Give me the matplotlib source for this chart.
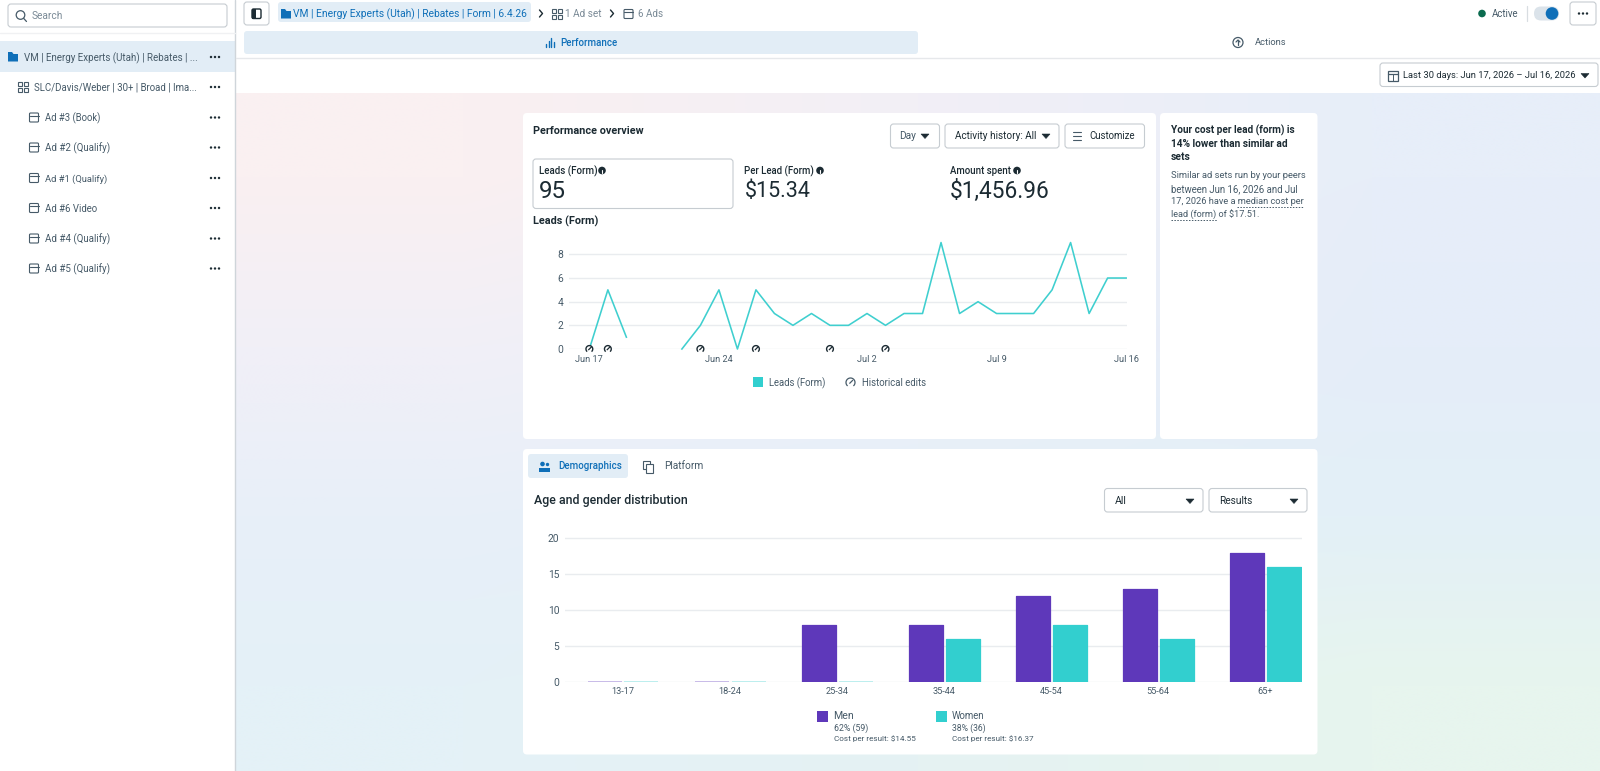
import numpy as np
import matplotlib
matplotlib.use("Agg")
import matplotlib.pyplot as plt
from matplotlib.patches import FancyBboxPatch, Rectangle, Circle, Polygon
from matplotlib.path import Path
from matplotlib.colors import to_rgb
from matplotlib.textpath import TextPath
from matplotlib.font_manager import FontProperties

# ---------- data ----------
day_index = list(range(30))
leads = [0, 5, 1, None, None, 0, 2, 5, 0, 5, 3, 2, 3, 2, 2, 3, 2, 3, 3, 9,
         3, 4, 3, 3, 3, 5, 9, 3, 6, 6]
edit_days = [0, 1, 6, 9, 13, 16]
date_ticks = [0, 7, 15, 22, 29]
date_labels = ["Jun 17", "Jun 24", "Jul 2", "Jul 9", "Jul 16"]
leads_yticks = [0, 2, 4, 6, 8]

age_groups = ["13-17", "18-24", "25-34", "35-44", "45-54", "55-64", "65+"]
men = [0, 0, 8, 8, 12, 13, 18]
women = [0, 0, 0, 6, 8, 6, 16]
age_yticks = [0, 5, 10, 15, 20]

ad_rows = ["Ad #3 (Book)", "Ad #2 (Qualify)", "Ad #1 (Qualify)", "Ad #6 Video",
           "Ad #4 (Qualify)", "Ad #5 (Qualify)"]
ad_widths = [55, 64, 62, 52, 64, 64]

# ---------- style ----------
W, H = 1600, 771
FONT = ["Roboto", "DejaVu Sans"]
plt.rcParams["font.family"] = FONT
INK = "#1c2b33"
MID = "#465a68"
SOFT = "#7a8a96"
BLUE = "#0f6fb8"
PALE = "#e2edf6"
BORDER = "#c6ccd1"
GRID = "#e9ecef"
PURPLE = "#5e38ba"
TEAL = "#32cfcf"
LINE = "#3fcfcf"

fig = plt.figure(figsize=(W / 100, H / 100), dpi=100, facecolor="white")
ui = fig.add_axes([0, 0, 1, 1], zorder=0)
ui.set_xlim(0, W)
ui.set_ylim(H, 0)
ui.axis("off")

# ---------- background ----------
grad = np.array([[to_rgb(c) for c in row] for row in [
    ["#faf0f1", "#f2eff6", "#e7eef9"],
    ["#f1eff7", "#eceff8", "#e5edf9"],
    ["#e8eff9", "#e5f0f8", "#e3f0f7"],
    ["#e4f1f7", "#e5f2f3", "#e7f5ee"]]])
ui.imshow(grad, extent=(236, W, H, 93), aspect="auto", interpolation="bilinear", zorder=0)
ui.set_xlim(0, W)
ui.set_ylim(H, 0)


def T(x, y, s, width, color=INK, weight="normal", ha="left"):
    """Place text so that its drawn width is `width` pixels."""
    fp = FontProperties(family="Roboto", weight=weight)
    bb = TextPath((0, 0), s, size=100, prop=fp).get_extents()
    pts = 100 * (width * 0.72) / bb.width
    return ui.text(x, y + 0.8, s, fontsize=pts, color=color, fontweight=weight,
                   ha=ha, va="center", zorder=5, family=FONT)


def box(x0, y0, x1, y1, fc="white", ec="none", lw=0.8, r=3, z=2):
    p = FancyBboxPatch((x0, y0), x1 - x0, y1 - y0, boxstyle=f"round,pad=0,rounding_size={r}",
                       fc=fc, ec=ec, lw=lw, zorder=z)
    ui.add_patch(p)
    return p


def L(xs, ys, color=INK, lw=0.9, ls="-", z=6):
    ui.plot(xs, ys, color=color, lw=lw, ls=ls, zorder=z, solid_capstyle="round")


def caret(x, y, s=4, color=INK):
    ui.add_patch(Polygon([(x - s, y - 2), (x + s, y - 2), (x, y + 2.5)], fc=color, ec=color, lw=0.4, zorder=6))


def dots(x, y):
    for d in (-4, 0, 4):
        ui.add_patch(Circle((x + d, y), 1.2, fc=INK, ec="none", zorder=6))


def folder(x, y, c=BLUE):
    ui.add_patch(Polygon([(x, y - 5), (x + 4, y - 5), (x + 5.5, y - 3), (x + 10, y - 3), (x + 10, y + 4.5), (x, y + 4.5)],
                         fc=c, ec="none", zorder=6))


def gridicon(x, y, c=MID):
    for dx in (0, 6):
        for dy in (-5, 1):
            ui.add_patch(Rectangle((x + dx, y + dy), 4.2, 4.2, fc="none", ec=c, lw=0.8, zorder=6))


def adicon(x, y, c=MID):
    ui.add_patch(FancyBboxPatch((x, y - 4.5), 9, 9, boxstyle="round,pad=0,rounding_size=1", fc="none", ec=c, lw=0.8, zorder=6))
    L([x, x + 9], [y - 2, y - 2], c, 0.8)


def chevron(x, y, c=INK):
    L([x - 1.5, x + 1.5, x - 1.5], [y - 3.5, y, y + 3.5], c, 1.0)


def info(x, y):
    ui.add_patch(Circle((x, y), 3.8, fc=INK, ec="none", zorder=6))
    L([x, x], [y - 0.3, y + 2], "white", 0.8, z=7)
    L([x, x], [y - 2, y - 1.7], "white", 0.8, z=7)


# ---------- sidebar ----------
L([235, 235], [0, H], "#cfd5da", 1.0)
box(8, 4, 227, 27, ec=BORDER)
ui.add_patch(Circle((20.5, 15), 4.3, fc="none", ec=MID, lw=0.9, zorder=6))
L([23.7, 26.5], [18.4, 21.5], MID, 0.9)
T(32, 15.5, "Search", 30, SOFT)
L([0, 235], [33, 33], "#f0f1f3", 1.0)
ui.add_patch(Rectangle((0, 41), 235, 31, fc=PALE, ec="none", zorder=1))
folder(8, 57)
T(24, 57, "VM | Energy Experts (Utah) | Rebates | ...", 173, MID)
dots(215, 57)
gridicon(18, 87)
T(34.5, 87, "SLC/Davis/Weber | 30+ | Broad | Ima...", 163, MID)
dots(215, 87)
row_y = [117.5, 147.5, 178, 208, 238.5, 268.5]
for name, wd, y in zip(ad_rows, ad_widths, row_y):
    adicon(29.5, y)
    T(45, y, name, wd, MID)
    dots(215, y)

# ---------- top bar ----------
box(244, 2, 269, 25, ec=BORDER)
ui.add_patch(FancyBboxPatch((252, 9), 9, 9.5, boxstyle="round,pad=0,rounding_size=1.5", fc="white", ec=INK, lw=1, zorder=6))
ui.add_patch(Rectangle((252, 9), 4, 9.5, fc=INK, ec="none", zorder=6))
box(278, 2, 531, 22, fc=PALE)
folder(281, 14)
T(293, 13, "VM | Energy Experts (Utah) | Rebates | Form | 6.4.26", 234, BLUE)
chevron(541, 13.5)
gridicon(552, 14, MID)
T(565, 13, "1 Ad set", 35.5, SOFT)
chevron(612, 13.5)
adicon(624, 14, MID)
T(638, 13, "6 Ads", 24, SOFT)
ui.add_patch(Circle((1482, 13.5), 3.8, fc="#0b6b4f", ec="none", zorder=6))
T(1492, 13, "Active", 26, MID)
L([1527, 1527], [6, 21], "#d8dde1", 0.9)
box(1534, 6.5, 1559, 20.5, fc="#dbe3ea", r=7)
ui.add_patch(Circle((1552, 13.5), 6.3, fc=BLUE, ec="none", zorder=6))
box(1570, 2, 1596, 25, ec=BORDER)
dots(1583, 13.5)

box(244, 31, 918, 54, fc=PALE)
for i, h in enumerate((3, 6, 9, 5)):
    L([546 + i * 2.6, 546 + i * 2.6], [47, 47 - h], BLUE, 1.0)
T(560, 42, "Performance", 56, BLUE, weight="medium")
ui.add_patch(Circle((1238, 42.5), 5, fc="none", ec=MID, lw=0.9, zorder=6))
L([1238, 1238], [45, 40], MID, 0.9)
L([1236, 1238, 1240], [42, 40, 42], MID, 0.9)
T(1255, 42, "Actions", 31, MID)
L([236, W], [57.5, 57.5], "#e6e8eb", 1.0)

box(1380, 63, 1598, 86.5, ec=BORDER)
ui.add_patch(Rectangle((1388, 71), 10, 10, fc="none", ec=MID, lw=0.9, zorder=6))
L([1388, 1398], [74, 74], MID, 0.9)
L([1393, 1393], [74, 81], MID, 0.7)
T(1403, 74.5, "Last 30 days: Jun 17, 2026 \u2013 Jul 16, 2026", 172, INK)
caret(1585, 75.5)

# ---------- cards ----------
box(523, 113, 1156, 439, r=4)
box(1160, 113, 1317.5, 439, r=4)
box(523, 449, 1317.5, 754.5, r=4)

T(533, 130.5, "Performance overview", 110, INK, weight="bold")
box(890.5, 124, 939.5, 148, ec=BORDER)
T(899, 135.5, "Day", 16, MID)
caret(925, 136)
box(945, 124, 1059, 148, ec=BORDER)
T(955, 135.5, "Activity history: All", 81, INK)
caret(1046, 136)
box(1065, 124, 1144.5, 148, ec=BORDER)
for dy in (-4, 0, 4):
    L([1073, 1081], [136 + dy, 136 + dy], MID, 0.8)
T(1089, 135.5, "Customize", 45, INK)

box(533, 159, 733, 208.5, ec=BORDER)
T(539, 170, "Leads (Form)", 57, INK, weight="medium")
info(602, 170.5)
T(539, 191, "95", 25, INK)
T(744.5, 170, "Per Lead (Form)", 68.5, INK, weight="medium")
info(820, 170.5)
T(744.5, 191, "$15.34", 64.5, INK)
T(950, 170, "Amount spent", 60, INK, weight="medium")
info(1017, 170.5)
T(950, 191, "$1,456.96", 97, INK)
T(533, 220.5, "Leads (Form)", 64, INK, weight="bold")

ui.add_patch(Rectangle((752.5, 377), 10.5, 10, fc=TEAL, ec="none", zorder=6))
T(769, 382, "Leads (Form)", 55.5, MID)
T(861.5, 382, "Historical edits", 63, MID)

# side card
for y, s, wd in zip((130, 143, 156), ("Your cost per lead (form) is", "14% lower than similar ad", "sets"), (122, 116, 19)):
    T(1171, y, s, wd, INK, weight="bold")
for y, s, wd in zip((175, 188, 201, 214), ("Similar ad sets run by your peers", "between Jun 16, 2026 and Jul",
                                            "17, 2026 have a median cost per", "lead (form) of $17.51."),
                    (135.5, 126, 133, 87)):
    T(1171, y, s, wd, MID)
L([1237, 1304], [206.5, 206.5], MID, 0.7, ls=(0, (1.5, 1.5)))
L([1171, 1217], [219.5, 219.5], MID, 0.7, ls=(0, (1.5, 1.5)))

# demographics header
box(528, 454, 628, 478, fc=PALE)
ui.add_patch(Circle((542.5, 464), 2.3, fc=BLUE, ec="none", zorder=6))
ui.add_patch(Circle((547.5, 464.5), 1.7, fc=BLUE, ec="none", zorder=6))
ui.add_patch(Rectangle((538.5, 467.5), 11.5, 4, fc=BLUE, ec="none", zorder=6))
T(558, 465.5, "Demographics", 62, BLUE, weight="medium")
ui.add_patch(Rectangle((643, 461), 7, 8, fc="none", ec=MID, lw=0.8, zorder=6))
ui.add_patch(Rectangle((646, 464), 7, 8.5, fc="white", ec=MID, lw=0.8, zorder=6))
T(664.5, 465.5, "Platform", 38, MID)
T(533.5, 500, "Age and gender distribution", 152.5, INK, weight="medium")
box(1104.5, 488.5, 1203, 512, ec=BORDER)
T(1115, 500, "All", 11, INK)
caret(1190, 501)
box(1209, 488.5, 1307, 512, ec=BORDER)
T(1219.5, 500, "Results", 32, INK)
caret(1294, 501)

# bar legend
ui.add_patch(Rectangle((817, 711), 11, 10.5, fc=PURPLE, ec="none", zorder=6))
T(833.5, 715.5, "Men", 19, MID)
T(833.5, 727, "62% (59)", 33, MID)
T(833.5, 738, "Cost per result: $14.55", 81, MID)
ui.add_patch(Rectangle((936, 711), 11, 10.5, fc=TEAL, ec="none", zorder=6))
T(952, 715.5, "Women", 32, MID)
T(952, 727, "38% (36)", 33, MID)
T(952, 738, "Cost per result: $16.37", 81, MID)


def make_axes(x0, x1, y_top, y_bottom):
    ax = fig.add_axes([x0 / W, 1 - y_bottom / H, (x1 - x0) / W, (y_bottom - y_top) / H], zorder=2)
    ax.patch.set_alpha(0)
    for s in ax.spines.values():
        s.set_visible(False)
    ax.grid(axis="y", color=GRID, lw=1.0)
    ax.set_axisbelow(True)
    ax.tick_params(length=0, labelcolor=MID)
    ax.tick_params(axis="x", labelsize=9.2 * 0.72)
    ax.tick_params(axis="y", labelsize=10.2 * 0.72)
    return ax


# ---------- line chart ----------
lx = make_axes(569, 1126.5, 240, 349)
lx.set_xlim(-1.1, 29.02)
lx.set_ylim(0, 109 / 11.83)
series = np.array([np.nan if v is None else v for v in leads], dtype=float)
lx.plot(day_index, series, color=LINE, lw=1.15, clip_on=False, zorder=3)
lx.set_yticks(leads_yticks)
lx.set_xticks(date_ticks, date_labels)
lx.tick_params(axis="x", pad=4.5)
lx.tick_params(axis="y", pad=4)
gauge = Path.arc(-50, 230)
needle = Path([(-0.2, -0.2), (0.45, 0.45)])
lx.scatter(edit_days, [0] * len(edit_days), s=30, c="white", linewidths=0, zorder=4, clip_on=False)
lx.scatter(edit_days, [0] * len(edit_days), s=24, marker=gauge, facecolors="none", edgecolors=INK,
           linewidths=1.0, zorder=5, clip_on=False)
lx.scatter(edit_days, [0] * len(edit_days), s=12, marker=needle, facecolors="none", edgecolors=INK,
           linewidths=0.9, zorder=5, clip_on=False)
# legend gauge glyph
ui.plot([850], [382], marker=gauge, ms=6.5, mfc="none", mec=MID, mew=0.9, zorder=6)
ui.plot([850], [382], marker=needle, ms=3.5, mfc="none", mec=MID, mew=0.9, zorder=6)

# ---------- bar chart ----------
bx = make_axes(565, 1301.6, 530, 682.3)
step = 107.1
bx.set_xlim((565 - 622.6) / step, (1301.6 - 622.6) / step)
bx.set_ylim(0, (682.3 - 530) / 7.2)
pos = np.arange(len(age_groups))
bw = 34 / step
off_m = 18 / step
off_w = 18.8 / step
bx.bar(pos - off_m, men, bw, color=PURPLE, edgecolor=PURPLE, linewidth=0.9, joinstyle="round", zorder=3)
bx.bar(pos + off_w, women, bw, color=TEAL, edgecolor=TEAL, linewidth=0.9, joinstyle="round", zorder=3)
for ser, shift, col in ((men, -off_m, "#c9bce8"), (women, off_w, "#bdeeee")):
    zero_pos = [p + shift for p, v in zip(pos, ser) if v == 0]
    bx.bar(zero_pos, [0.25] * len(zero_pos), bw, color=col, zorder=3.5)
for p, v in zip(bx.patches, men + women):
    if v == 0:
        p.set_visible(False)
bx.set_yticks(age_yticks)
bx.set_xticks(pos, age_groups)
bx.tick_params(axis="x", pad=3.5)
bx.tick_params(axis="y", pad=4)

fig.savefig("out.png", dpi=100)
